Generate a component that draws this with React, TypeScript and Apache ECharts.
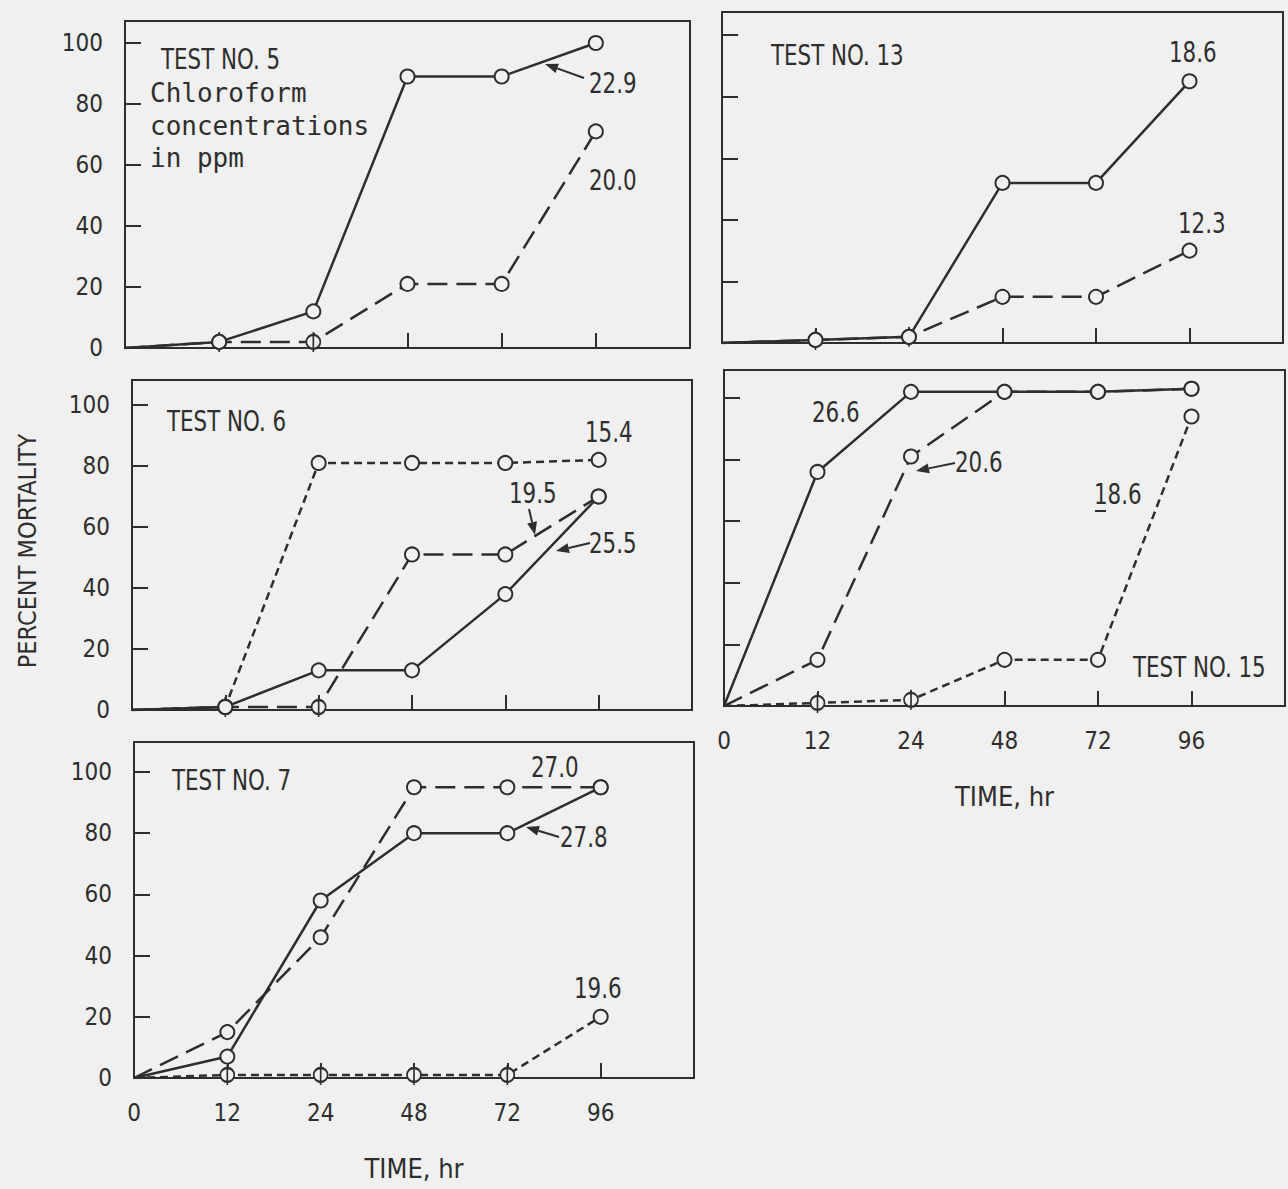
import React, { useEffect, useRef } from "react";
import * as echarts from "echarts";

// ---------- data ----------
const timeLabels = ["0", "12", "24", "48", "72", "96"];
const timeIndex = [0, 1, 2, 3, 4, 5];
const yTickValues = [0, 20, 40, 60, 80, 100];
const yTickLabels = ["0", "20", "40", "60", "80", "100"];

// Test No. 5
const t5_229 = [0, 2, 12, 89, 89, 100];
const t5_200 = [0, 2, 2, 21, 21, 71];
// Test No. 13
const t13_186 = [0, 1, 2, 52, 52, 85];
const t13_123 = [0, 1, 2, 15, 15, 30];
// Test No. 6
const t6_154 = [0, 1, 81, 81, 81, 82];
const t6_195 = [0, 1, 1, 51, 51, 70];
const t6_255 = [0, 1, 13, 13, 38, 70];
// Test No. 15
const t15_266 = [0, 76, 102, 102, 102, 103];
const t15_206 = [0, 15, 81, 102, 102, 103];
const t15_186 = [0, 1, 2, 15, 15, 94];
// Test No. 7
const t7_270 = [0, 15, 46, 95, 95, 95];
const t7_278 = [0, 7, 58, 80, 80, 95];
const t7_196 = [0, 1, 1, 1, 1, 20];

// ---------- styles ----------
const INK = "#2e2e2e";
const BG = "#f0f0f0";
const NARROW = "'Liberation Sans Narrow', 'DejaVu Sans Condensed', 'Arial Narrow', sans-serif";
const MONO = "'DejaVu Sans Mono', 'Liberation Mono', monospace";
const PHI = "path://M7,0 L7,20 M0,10 A7,7 0 1,1 14,10 A7,7 0 1,1 0,10 Z";
const SOLID: any = "solid";
const LONG = [20, 9];
const SHORT = [8, 5];

const panels = [
  { left: 125, top: 21, width: 565, height: 327, yMax: 107.2, yLabels: true, xLabels: false },
  { left: 722, top: 12, width: 561, height: 331, yMax: 107.5, yLabels: false, xLabels: false },
  { left: 132, top: 380, width: 560, height: 330, yMax: 108.2, yLabels: true, xLabels: false },
  { left: 724, top: 370, width: 561, height: 336, yMax: 109.1, yLabels: false, xLabels: true },
  { left: 134, top: 742, width: 560, height: 336, yMax: 109.8, yLabels: true, xLabels: true },
];

type Line = { panel: number; values: number[]; dash: any; phi: number[] };
const lines: Line[] = [
  { panel: 0, values: t5_229, dash: SOLID, phi: [1] },
  { panel: 0, values: t5_200, dash: LONG, phi: [2] },
  { panel: 1, values: t13_186, dash: SOLID, phi: [1, 2] },
  { panel: 1, values: t13_123, dash: LONG, phi: [] },
  { panel: 2, values: t6_154, dash: SHORT, phi: [1] },
  { panel: 2, values: t6_195, dash: LONG, phi: [2] },
  { panel: 2, values: t6_255, dash: SOLID, phi: [] },
  { panel: 3, values: t15_266, dash: SOLID, phi: [] },
  { panel: 3, values: t15_206, dash: LONG, phi: [] },
  { panel: 3, values: t15_186, dash: SHORT, phi: [1, 2] },
  { panel: 4, values: t7_270, dash: LONG, phi: [] },
  { panel: 4, values: t7_278, dash: SOLID, phi: [] },
  { panel: 4, values: t7_196, dash: SHORT, phi: [1, 2, 3, 4] },
];

function txt(text: string, x: number, y: number, size = 28, font = NARROW, sx = 0.85) {
  return {
    type: "text",
    x,
    y,
    scaleX: sx,
    z: 50,
    style: {
      text,
      fill: INK,
      font: `${size}px ${font}`,
      textAlign: "left",
      textVerticalAlign: "middle",
    },
  };
}

function arrow(x1: number, y1: number, x2: number, y2: number) {
  const ang = Math.atan2(y2 - y1, x2 - x1);
  const L = 13;
  const W = 5;
  const bx = x2 - L * Math.cos(ang);
  const by = y2 - L * Math.sin(ang);
  const px = -Math.sin(ang) * W;
  const py = Math.cos(ang) * W;
  return [
    { type: "line", z: 50, shape: { x1, y1, x2: bx, y2: by }, style: { stroke: INK, lineWidth: 2 } },
    {
      type: "polygon",
      z: 50,
      shape: { points: [[x2, y2], [bx + px, by + py], [bx - px, by - py]] },
      style: { fill: INK },
    },
  ];
}

export default function App() {
  const ref = useRef<HTMLDivElement>(null);

  useEffect(() => {
    document.body.style.margin = "0";
    if (!ref.current) return;
    const chart = echarts.init(ref.current, null, { renderer: "svg" });

    const grid = panels.map((p) => ({
      left: p.left,
      top: p.top,
      width: p.width,
      height: p.height,
      show: true,
      borderColor: INK,
      borderWidth: 2,
      backgroundColor: "transparent",
    }));

    const xAxis = panels.map((p, i) => ({
      type: "value",
      gridIndex: i,
      min: 0,
      max: 6,
      interval: 1,
      splitLine: { show: false },
      axisLine: { show: false },
      axisTick: {
        show: true,
        inside: true,
        length: 15,
        customValues: [1, 2, 3, 4, 5],
        lineStyle: { color: INK, width: 2 },
      },
      axisLabel: {
        show: p.xLabels,
        customValues: timeIndex,
        formatter: (v: number) => timeLabels[Math.round(v)] ?? "",
        color: INK,
        fontFamily: NARROW,
        fontSize: 24,
        margin: 23,
      },
      name: p.xLabels ? "TIME, hr" : "",
      nameLocation: "middle",
      nameGap: 77,
      nameTextStyle: { color: INK, fontFamily: NARROW, fontSize: 27 },
    }));

    const yAxis = panels.map((p, i) => ({
      type: "value",
      gridIndex: i,
      min: 0,
      max: p.yMax,
      splitLine: { show: false },
      axisLine: { show: false },
      axisTick: {
        show: true,
        inside: true,
        length: 16,
        customValues: yTickValues,
        lineStyle: { color: INK, width: 2 },
      },
      axisLabel: {
        show: p.yLabels,
        customValues: yTickValues,
        formatter: (v: number) => {
          const k = yTickValues.indexOf(Math.round(v));
          return k >= 0 ? yTickLabels[k] : "";
        },
        color: INK,
        fontFamily: NARROW,
        fontSize: 24,
        margin: 22,
      },
    }));

    const series = lines.map((l, idx) => ({
      type: "line",
      xAxisIndex: l.panel,
      yAxisIndex: l.panel,
      z: 10 + idx,
      symbolSize: (_v: any, params: any) => (l.phi.includes(params.dataIndex) ? [14, 20] : 14),
      data: timeIndex.map((x, k) => ({
        value: [x, l.values[k]],
        symbol: k === 0 ? "none" : l.phi.includes(k) ? PHI : "circle",
      })),
      lineStyle: { color: INK, width: 2.5, type: l.dash },
      itemStyle: { color: BG, borderColor: INK, borderWidth: 2 },
      emphasis: { disabled: true },
    }));

    const graphic: any[] = [
      // rotated y-axis title
      {
        type: "text",
        x: 27,
        y: 551,
        rotation: Math.PI / 2,
        z: 50,
        style: {
          text: "PERCENT MORTALITY",
          fill: INK,
          font: `25px 'DejaVu Sans Condensed', 'Liberation Sans', sans-serif`,
          textAlign: "center",
          textVerticalAlign: "middle",
        },
      },
      // Test 5
      txt("TEST NO. 5", 161, 59),
      txt("Chloroform", 150, 93, 26, MONO, 1),
      txt("concentrations", 150, 126, 26, MONO, 1),
      txt("in ppm", 150, 158, 26, MONO, 1),
      txt("22.9", 589, 83),
      ...arrow(584, 78, 545, 64),
      txt("20.0", 589, 180),
      // Test 13
      txt("TEST NO. 13", 771, 55),
      txt("18.6", 1169, 52),
      txt("12.3", 1178, 223),
      // Test 6
      txt("TEST NO. 6", 167, 421),
      txt("15.4", 585, 432),
      txt("19.5", 509, 493),
      ...arrow(529, 509, 535, 535),
      txt("25.5", 589, 543),
      ...arrow(590, 543, 556, 551),
      // Test 15
      txt("26.6", 812, 412),
      txt("20.6", 955, 462),
      ...arrow(955, 463, 916, 471),
      txt("18.6", 1094, 494),
      { type: "line", z: 50, shape: { x1: 1095, y1: 511, x2: 1106, y2: 511 }, style: { stroke: INK, lineWidth: 2 } },
      txt("TEST NO. 15", 1133, 667),
      // Test 7
      txt("TEST NO. 7", 172, 780),
      txt("27.0", 531, 767),
      txt("27.8", 560, 837),
      ...arrow(559, 837, 526, 827),
      txt("19.6", 574, 988),
    ];

    chart.setOption({
      animation: false,
      backgroundColor: BG,
      grid,
      xAxis,
      yAxis,
      series,
      graphic,
    } as any);

    return () => chart.dispose();
  }, []);

  return <div ref={ref} style={{ width: 1288, height: 1189, background: BG }} />;
}
